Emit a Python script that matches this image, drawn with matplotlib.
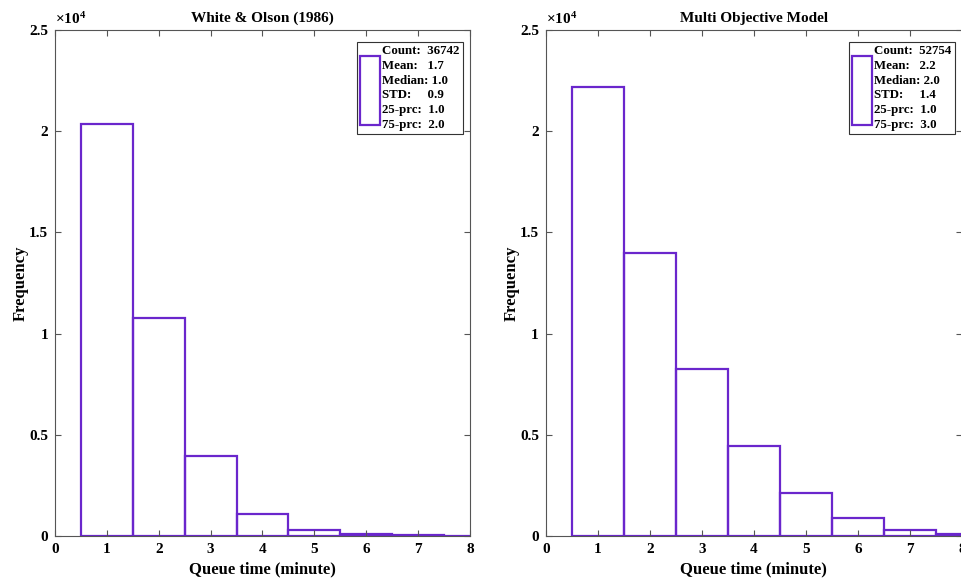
import matplotlib
matplotlib.use("Agg")
import matplotlib.pyplot as plt
from matplotlib.ticker import FuncFormatter

plt.rcParams['font.family'] = ['Liberation Serif', 'DejaVu Serif']
plt.rcParams['font.weight'] = 'bold'
plt.rcParams['mathtext.fontset'] = 'custom'
plt.rcParams['mathtext.rm'] = 'Liberation Serif'

# bin centres (minutes) and counts
queue_bins = [1, 2, 3, 4, 5, 6, 7, 8]
white_olson = [20330, 10790, 3940, 1070, 300, 80, 30, 10]
multi_obj = [22200, 14000, 8240, 4430, 2100, 900, 280, 100]

titles = ["White & Olson (1986)", "Multi Objective Model"]
stats_labels = [
    "Count:  36742\nMean:   1.7\nMedian: 1.0\nSTD:     0.9\n25-prc:  1.0\n75-prc:  2.0",
    "Count:  52754\nMean:   2.2\nMedian: 2.0\nSTD:     1.4\n25-prc:  1.0\n75-prc:  3.0",
]

purple = '#6a26cc'
axis_grey = '#555555'

fig = plt.figure(figsize=(9.61, 5.81), dpi=100)
ax1 = fig.add_axes([0.0572, 0.0775, 0.4318, 0.871])
ax2 = fig.add_axes([0.568, 0.0775, 0.4330, 0.871])

for ax, counts, title, lab in zip([ax1, ax2], [white_olson, multi_obj], titles, stats_labels):
    bars = ax.bar(queue_bins, counts, width=1.0, fill=False, edgecolor=purple,
                  linewidth=1.6, label=lab)
    ax.set_xlim(0, 8)
    ax.set_ylim(0, 25000)
    ax.set_xticks(range(0, 9))
    ax.set_yticks([0, 5000, 10000, 15000, 20000, 25000])
    ax.yaxis.set_major_formatter(FuncFormatter(lambda v, p: '%g' % (v / 1e4)))
    ax.tick_params(direction='in', top=True, right=True, length=4, width=0.8,
                   color=axis_grey, labelsize=11, pad=5)
    for lbl in ax.get_xticklabels() + ax.get_yticklabels():
        lbl.set_fontweight('bold')
    for s in ax.spines.values():
        s.set_color(axis_grey)
        s.set_linewidth(0.8)
    ax.set_title(title, fontsize=11, fontweight='bold', pad=6)
    ax.set_xlabel("Queue time (minute)", fontsize=12, fontweight='bold', labelpad=4)
    ax.set_ylabel("Frequency", fontsize=12, fontweight='bold', labelpad=0)
    ax.text(0.0, 1.005, r"$\times\mathdefault{10^{4}}$", transform=ax.transAxes,
            fontsize=11, ha='left', va='bottom')
    leg = ax.legend(handles=[bars.patches[0]], labels=[lab], loc='upper right',
                    bbox_to_anchor=(0.983, 0.976), borderaxespad=0,
                    fontsize=9.3, handlelength=1.55, handleheight=7.8,
                    handletextpad=0.15, borderpad=0.25,
                    fancybox=False, framealpha=1, edgecolor='#333333')
    leg.get_frame().set_linewidth(0.8)
    for t in leg.get_texts():
        t.set_fontweight('bold')
        t.set_linespacing(1.3)

fig.savefig("out.png", dpi=100, facecolor='white')
